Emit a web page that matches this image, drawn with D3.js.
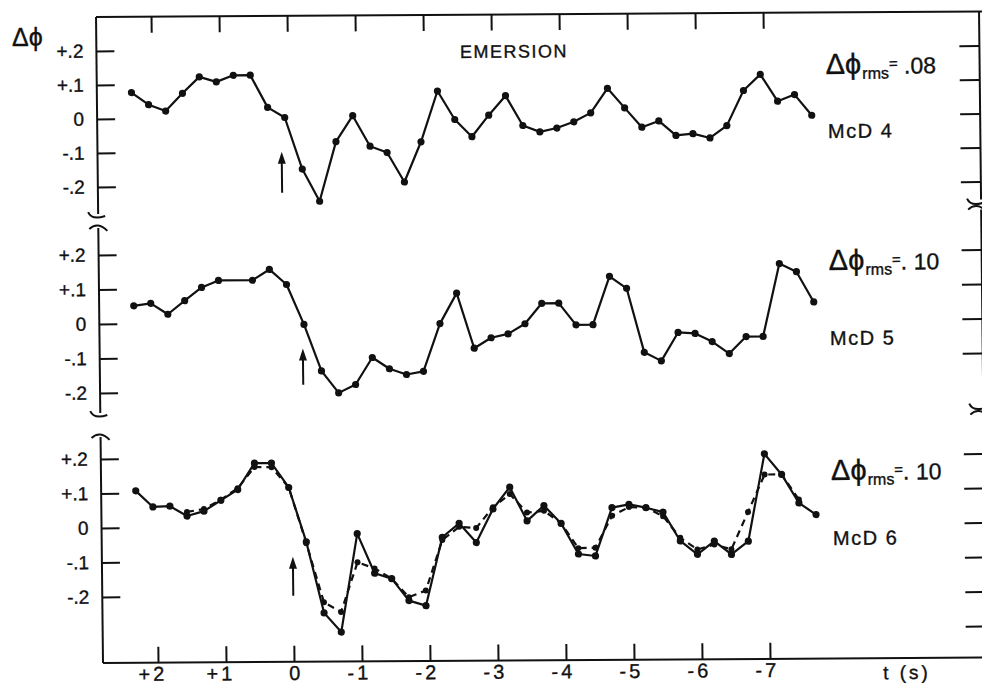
<!DOCTYPE html>
<html><head><meta charset="utf-8">
<script src="https://cdn.jsdelivr.net/npm/d3@7"></script>
<style>html,body{margin:0;padding:0;background:#fff;} svg{display:block;}</style>
</head><body>
<svg id="chart" width="982" height="685"></svg>
<script>
// ---------- data ----------
const times = [2.3, 2.05, 1.8, 1.55, 1.3, 1.05, 0.8, 0.55, 0.3, 0.05, -0.2, -0.45, -0.7, -0.95, -1.2, -1.45, -1.7, -1.95, -2.2, -2.45, -2.7, -2.95, -3.2, -3.45, -3.7, -3.95, -4.2, -4.45, -4.7, -4.95, -5.2, -5.45, -5.7, -5.95, -6.2, -6.45, -6.7, -6.95, -7.2, -7.45, -7.7];
const secTicks = [2, 1, 0, -1, -2, -3, -4, -5, -6, -7];
const secTickLabels = ["+2", "+1", "0", "-1", "-2", "-3", "-4", "-5", "-6", "-7"];
const phiTicks = [0.2, 0.1, 0, -0.1, -0.2];
const phiTickLabels = ["+.2", "+.1", "0", "-.1", "-.2"];
const rightTicksTop = [0.2, 0.1, 0, -0.1, -0.2];
const rightTicksMid = [0.2, 0.1, 0, -0.1];
const rightTicksBot = [0.2, 0.1, 0, -0.1, -0.2, -0.3];
const mcd4 = [0.077, 0.041, 0.022, 0.074, 0.122, 0.107, 0.126, 0.126, 0.031, 0.001, -0.151, -0.246, -0.071, 0.005, -0.085, -0.104, -0.191, -0.073, 0.076, -0.008, -0.059, 0.004, 0.061, -0.027, -0.046, -0.035, -0.017, 0.009, 0.081, 0.023, -0.034, -0.016, -0.059, -0.054, -0.067, -0.031, 0.072, 0.119, 0.040, 0.059, -0.002];
const mcd5 = [0.052, 0.059, 0.027, 0.066, 0.104, 0.124, null, 0.124, 0.155, 0.111, -0.005, -0.140, -0.204, -0.180, -0.102, -0.135, -0.152, -0.143, -0.005, 0.083, -0.077, -0.047, -0.036, -0.007, 0.052, 0.052, -0.011, -0.011, 0.129, 0.094, -0.092, -0.117, -0.035, -0.038, -0.062, -0.097, -0.048, -0.048, 0.163, 0.139, 0.051];
const mcd6 = [0.107, 0.060, 0.062, 0.033, 0.047, 0.078, 0.109, 0.185, 0.185, 0.114, -0.044, -0.250, -0.306, -0.021, -0.136, -0.152, -0.216, -0.231, -0.033, 0.007, -0.049, 0.048, 0.111, 0.013, 0.057, 0.005, -0.084, -0.090, 0.050, 0.059, 0.049, 0.036, -0.048, -0.087, -0.049, -0.088, -0.050, 0.203, 0.143, 0.060, 0.026];
const mcd6Dashed = [null, null, null, 0.045, 0.053, 0.080, 0.113, 0.174, 0.173, 0.114, -0.048, -0.219, -0.248, -0.104, -0.122, -0.152, -0.206, -0.187, -0.041, -0.003, -0.007, 0.053, 0.091, 0.037, 0.042, 0.005, -0.067, -0.066, 0.026, 0.051, 0.049, 0.024, -0.039, -0.073, -0.059, -0.073, 0.035, 0.143, 0.143, 0.070, null];
const panelNames = ["McD 4", "McD 5", "McD 6"];
const rmsValues = [" .08", ". 10", ". 10"];
const arrowTimes = [0.1, -0.18, 0.0];
const arrowTail = [-0.22, -0.18, -0.2];
const arrowTip = [-0.10, -0.075, -0.087];
const titleText = "EMERSION";
const xTitle = "t (s)";
const yTitle = "Δϕ";

// ---------- layout ----------
const FONT = "'Liberation Sans', 'DejaVu Sans', Arial, sans-serif";
const svg = d3.select("#chart");
svg.append("rect").attr("width", 982).attr("height", 685).attr("fill", "#fff");
const k = 0.0108, m = -0.0062;   // slight scan skew
const g = svg.append("g").attr("transform", `matrix(1,${m},${k},1,${-663 * k},${-100 * m})`);

const LEFT = 103, RIGHT = 986, TOP = 17, BOTTOM = 663;
const x = d3.scaleLinear().domain([0, -7]).range([294, 770]);
const panelGeom = [
  { zero: 119, ppu: 340, seg: [TOP, 214], rseg: [TOP, 205], rticks: rightTicksTop },
  { zero: 324, ppu: 345, seg: [228, 413], rseg: [215, 410], rticks: rightTicksMid },
  { zero: 528, ppu: 345, seg: [437, BOTTOM], rseg: [420, BOTTOM], rticks: rightTicksBot }
];
const series = [mcd4, mcd5, mcd6];
const stroke = "#111";
const textStyle = sel => sel.attr("font-family", FONT).attr("fill", stroke)
  .attr("stroke", stroke).attr("stroke-width", 0.35);

// frame lines top & bottom
g.append("line").attr("x1", LEFT).attr("x2", RIGHT + 4).attr("y1", TOP).attr("y2", TOP)
  .attr("stroke", stroke).attr("stroke-width", 2);
g.append("line").attr("x1", LEFT).attr("x2", RIGHT + 4).attr("y1", BOTTOM).attr("y2", BOTTOM)
  .attr("stroke", stroke).attr("stroke-width", 2);

// top & bottom ticks
const topAxis = g.append("g").attr("transform", `translate(0,${TOP})`)
  .call(d3.axisTop(x).tickValues(secTicks).tickSize(-16).tickFormat(""));
const botAxis = g.append("g").attr("transform", `translate(0,${BOTTOM})`)
  .call(d3.axisBottom(x).tickValues(secTicks).tickSize(-16).tickPadding(4)
    .tickFormat((d, i) => secTickLabels[i]));
[topAxis, botAxis].forEach(a => {
  a.select(".domain").remove();
  a.selectAll(".tick line").attr("stroke", stroke).attr("stroke-width", 2);
});
botAxis.selectAll(".tick text").call(textStyle).attr("font-size", 20)
  .attr("text-anchor", "end").attr("letter-spacing", 3).attr("x", 5.6 + 3);

// x title
g.append("text").attr("x", 883).attr("y", 684).text(xTitle).call(textStyle)
  .attr("font-size", 19).attr("letter-spacing", 3);

function breakBottom(sel, xx, yy) {
  sel.append("path").attr("d", `M${xx - 10},${yy - 2} C${xx - 7},${yy + 5} ${xx + 1},${yy + 4} ${xx + 7},${yy + 2}`)
    .attr("fill", "none").attr("stroke", stroke).attr("stroke-width", 2);
}
function breakTop(sel, xx, yy) {
  sel.append("path").attr("d", `M${xx - 9},${yy + 1} C${xx - 4},${yy - 4} ${xx + 3},${yy - 4} ${xx + 9},${yy + 3}`)
    .attr("fill", "none").attr("stroke", stroke).attr("stroke-width", 2);
}

const line = d3.line();

panelGeom.forEach((p, pi) => {
  const y = d3.scaleLinear().domain([-0.2, 0.2]).range([p.zero + 0.2 * p.ppu, p.zero - 0.2 * p.ppu]);
  // left axis segment
  g.append("line").attr("x1", LEFT).attr("x2", LEFT).attr("y1", p.seg[0]).attr("y2", p.seg[1])
    .attr("stroke", stroke).attr("stroke-width", 2);
  if (pi < 2) breakBottom(g, LEFT, p.seg[1]);
  if (pi > 0) breakTop(g, LEFT, p.seg[0]);
  // right axis segment
  g.append("line").attr("x1", RIGHT).attr("x2", RIGHT).attr("y1", p.rseg[0]).attr("y2", p.rseg[1])
    .attr("stroke", stroke).attr("stroke-width", 2);
  if (pi < 2) breakBottom(g, RIGHT - 4, p.rseg[1] + 1);
  if (pi > 0) breakTop(g, RIGHT - 4, p.rseg[0] - 1);

  const la = g.append("g").attr("transform", `translate(${LEFT},0)`)
    .call(d3.axisLeft(y).tickValues(phiTicks).tickSize(-18).tickPadding(13)
      .tickFormat((d, i) => phiTickLabels[i]));
  la.select(".domain").remove();
  la.selectAll(".tick line").attr("stroke", stroke).attr("stroke-width", 2);
  la.selectAll(".tick text").call(textStyle).attr("font-size", 19);

  const ra = g.append("g").attr("transform", `translate(${RIGHT},0)`)
    .call(d3.axisRight(y).tickValues(p.rticks).tickSize(-20).tickFormat(""));
  ra.select(".domain").remove();
  ra.selectAll(".tick line").attr("stroke", stroke).attr("stroke-width", 2);

  line.x(d => x(d.t)).y(d => y(d.v));
  const drawSeries = (vals, dashed) => {
    const pts = times.map((t, i) => ({ t, v: vals[i] })).filter(d => d.v !== null);
    g.append("path").datum(pts).attr("d", line).attr("fill", "none")
      .attr("stroke", stroke).attr("stroke-width", 2.2).attr("stroke-linejoin", "round")
      .attr("stroke-dasharray", dashed ? "7,5" : null);
    g.append("g").selectAll("circle").data(pts).join("circle")
      .attr("cx", d => x(d.t)).attr("cy", d => y(d.v)).attr("r", dashed ? 3 : 3.6).attr("fill", stroke);
  };
  if (pi === 2) drawSeries(mcd6Dashed, true);
  drawSeries(series[pi], false);

  // arrow
  const ax = x(arrowTimes[pi]), yTail = y(arrowTail[pi]), yTip = y(arrowTip[pi]);
  g.append("line").attr("x1", ax).attr("x2", ax).attr("y1", yTail).attr("y2", yTip + 8)
    .attr("stroke", stroke).attr("stroke-width", 2);
  g.append("path").attr("d", `M${ax},${yTip} L${ax - 4},${yTip + 12} L${ax + 4},${yTip + 12} Z`).attr("fill", stroke);
});

// annotations
const rmsPos = [[832, 78.5], [833, 274.5], [833, 484.5]];
const namePos = [[833.7, 142.5], [833.4, 349.5], [834.3, 549.5]];
rmsPos.forEach((pos, i) => {
  const t = g.append("text").attr("x", pos[0]).attr("y", pos[1]).call(textStyle);
  t.append("tspan").attr("font-size", 29).text("Δϕ");
  t.append("tspan").attr("font-size", 16).attr("dy", 5).attr("dx", 1).text("rms");
  t.append("tspan").attr("font-size", 15).attr("dy", -10).text("=");
  t.append("tspan").attr("font-size", 23).attr("dy", 5).text(rmsValues[i]);
});
namePos.forEach((pos, i) => {
  g.append("text").attr("x", pos[0]).attr("y", pos[1]).text(panelNames[i]).call(textStyle)
    .attr("font-size", 20).attr("letter-spacing", 1.5);
});
g.append("text").attr("x", 466.5).attr("y", 60.2).text(titleText).call(textStyle)
  .attr("font-size", 18).attr("letter-spacing", 1.5);
svg.append("text").attr("x", 12).attr("y", 46).text(yTitle).call(textStyle)
  .attr("font-size", 25);
</script>
</body></html>
